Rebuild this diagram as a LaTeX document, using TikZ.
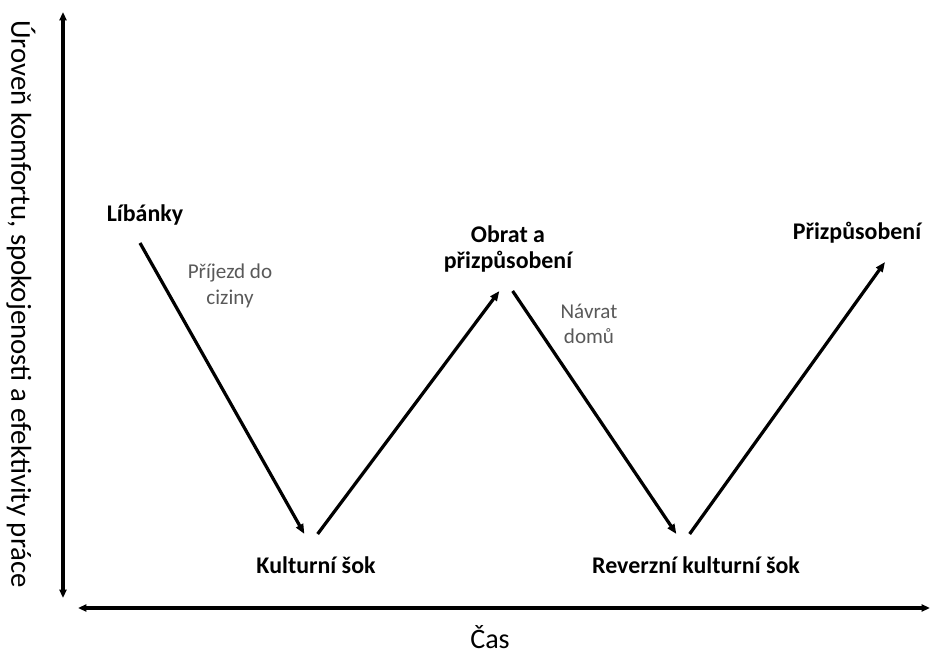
\documentclass[tikz,border=0pt]{standalone}
\usepackage{fontspec}
\setmainfont{Carlito}
\usetikzlibrary{arrows.meta}

\begin{document}
\begin{tikzpicture}[
	x=0.025cm, y=-0.025cm,
	axis/.style    = {line width=2.4pt, {Triangle[length=6pt,width=5pt]}-{Triangle[length=6pt,width=5pt]}},
	phase/.style   = {line width=2.3pt, -{Triangle[length=7pt,width=5.5pt]}},
	stage/.style   = {font=\fontsize{17}{18.5}\selectfont\bfseries, align=center},
	event/.style   = {font=\fontsize{15}{18}\selectfont, text=black!65, align=center},
	vertex/.style  = {inner sep=0pt, minimum width=9pt, minimum height=0pt}
	]
	\useasboundingbox (0,0) rectangle (932,655);

	% ===================== Axes =====================
	\coordinate (ytop) at (63,12);
	\coordinate (ybot) at (63,598);
	\coordinate (xleft) at (78,608);
	\coordinate (xright) at (930,608);
	\draw[axis] (ytop) -- (ybot);
	\draw[axis] (xleft) -- (xright);

	\node[rotate=-90, font=\fontsize{20.5}{24}\selectfont] (ylab) at (21,304) {Úroveň komfortu, spokojenosti a efektivity práce};
	\node[font=\fontsize{20}{24}\selectfont, anchor=base, inner sep=1pt] (xlab) at (490,648) {Čas};

	% ===================== Stages =====================
	\node[stage, anchor=base] (honey)  at (145,222) {Líbánky};
	\node[stage, anchor=base] (shock)  at (316,573) {Kulturní šok};
	\node[stage] (turn)   at (508,249) {Obrat a\\přizpůsobení};
	\node[stage, anchor=base] (rshock) at (696,573) {Reverzní kulturní šok};
	\node[stage, anchor=base] (adapt)  at (857,240) {Přizpůsobení};

	\node[event] (arrive) at (230,286) {Příjezd do\\ciziny};
	\node[event] (home)   at (589,324) {Návrat\\domů};

	% turning points of the curve
	\coordinate (v1) at (140,243);
	\node[vertex] (v2) at (311,534) {};
	\node[vertex] (v3) at (506,291) {};
	\node[vertex] (v4) at (683,534) {};
	\coordinate (v5) at (885,262);

	\draw[phase] (v1) -- (v2.west);
	\draw[phase] (v2.east) -- (v3.west);
	\draw[phase] (v3.east) -- (v4.west);
	\draw[phase] (v4.east) -- (v5);

\end{tikzpicture}
\end{document}
